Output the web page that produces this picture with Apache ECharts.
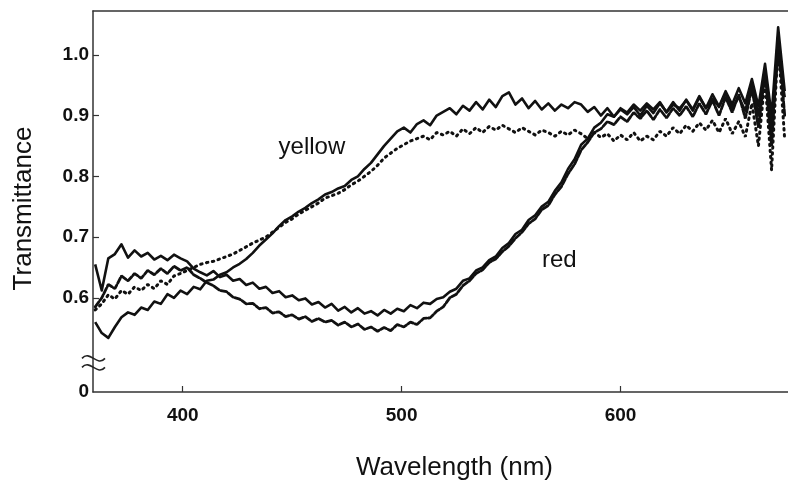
<!DOCTYPE html>
<html><head><meta charset="utf-8">
<script src="https://cdn.jsdelivr.net/npm/echarts@6/dist/echarts.min.js"></script>
<style>html,body{margin:0;padding:0;background:#fff}#c{width:788px;height:481px}</style>
</head><body><div id="c"></div>
<script>
const wavelength = [360,363,366,369,372,375,378,381,384,387,
390,393,396,399,402,405,408,411,414,417,
420,423,426,429,432,435,438,441,444,447,
450,453,456,459,462,465,468,471,474,477,
480,483,486,489,492,495,498,501,504,507,
510,513,516,519,522,525,528,531,534,537,
540,543,546,549,552,555,558,561,564,567,
570,573,576,579,582,585,588,591,594,597,
600,603,606,609,612,615,618,621,624,627,
630,633,636,639,642,645,648,651,654,657,
660,663,666,669,672,675];

const redSolid = [0.655,0.612,0.665,0.672,0.688,0.666,0.678,0.668,0.674,0.663,
0.669,0.662,0.671,0.665,0.660,0.648,0.642,0.637,0.644,0.634,
0.638,0.628,0.631,0.621,0.625,0.615,0.618,0.608,0.611,0.601,
0.604,0.596,0.599,0.589,0.593,0.584,0.590,0.579,0.585,0.576,
0.583,0.574,0.578,0.571,0.580,0.574,0.582,0.578,0.588,0.583,
0.592,0.590,0.598,0.601,0.610,0.615,0.628,0.632,0.645,0.650,
0.662,0.668,0.682,0.690,0.705,0.712,0.728,0.736,0.750,0.758,
0.776,0.790,0.812,0.828,0.852,0.862,0.880,0.888,0.902,0.898,
0.912,0.905,0.918,0.908,0.920,0.910,0.922,0.905,0.918,0.912,
0.925,0.908,0.930,0.912,0.935,0.915,0.940,0.918,0.945,0.920,
0.960,0.915,0.985,0.900,1.045,0.940];

const redDashed = [0.585,0.600,0.622,0.615,0.636,0.628,0.640,0.632,0.645,0.638,
0.648,0.640,0.652,0.645,0.650,0.638,0.632,0.625,0.620,0.612,
0.610,0.601,0.598,0.590,0.591,0.582,0.584,0.575,0.577,0.569,
0.572,0.565,0.569,0.561,0.566,0.560,0.563,0.555,0.560,0.552,
0.557,0.548,0.552,0.545,0.551,0.546,0.556,0.552,0.560,0.556,
0.566,0.567,0.578,0.585,0.600,0.606,0.620,0.628,0.640,0.646,
0.658,0.664,0.676,0.685,0.698,0.708,0.722,0.730,0.745,0.752,
0.770,0.783,0.804,0.820,0.843,0.856,0.872,0.878,0.890,0.885,
0.898,0.890,0.905,0.895,0.908,0.893,0.910,0.896,0.912,0.900,
0.915,0.898,0.920,0.902,0.925,0.900,0.930,0.905,0.935,0.895,
0.945,0.880,0.970,0.850,1.030,0.900];

const yellowSolid = [0.560,0.542,0.534,0.552,0.568,0.576,0.572,0.584,0.580,0.594,
0.590,0.606,0.600,0.612,0.606,0.618,0.614,0.628,0.630,0.638,
0.642,0.650,0.656,0.664,0.674,0.686,0.696,0.706,0.718,0.728,
0.734,0.742,0.748,0.756,0.762,0.770,0.774,0.780,0.784,0.794,
0.800,0.812,0.822,0.836,0.850,0.862,0.874,0.880,0.872,0.886,
0.892,0.884,0.900,0.906,0.912,0.902,0.916,0.908,0.922,0.910,
0.926,0.914,0.932,0.938,0.918,0.928,0.912,0.924,0.910,0.920,
0.908,0.918,0.912,0.922,0.918,0.906,0.914,0.900,0.912,0.898,
0.910,0.902,0.914,0.900,0.916,0.904,0.920,0.906,0.922,0.908,
0.926,0.910,0.932,0.912,0.928,0.914,0.936,0.912,0.930,0.908,
0.950,0.900,0.975,0.880,1.000,0.930];

const yellowDotted = [0.580,0.590,0.605,0.598,0.612,0.606,0.618,0.612,0.622,0.615,
0.628,0.622,0.636,0.640,0.645,0.650,0.655,0.658,0.660,0.664,
0.668,0.672,0.678,0.684,0.690,0.695,0.700,0.708,0.716,0.724,
0.730,0.738,0.744,0.750,0.756,0.764,0.768,0.772,0.778,0.786,
0.792,0.800,0.808,0.818,0.830,0.838,0.846,0.852,0.858,0.862,
0.866,0.860,0.872,0.868,0.874,0.866,0.878,0.870,0.880,0.872,
0.882,0.876,0.884,0.878,0.872,0.880,0.874,0.868,0.876,0.872,
0.866,0.874,0.868,0.876,0.870,0.862,0.872,0.864,0.870,0.858,
0.868,0.860,0.872,0.858,0.866,0.860,0.874,0.866,0.880,0.870,
0.884,0.874,0.888,0.876,0.892,0.872,0.895,0.870,0.890,0.865,
0.920,0.850,0.960,0.810,1.020,0.860];

const xTicks = [400, 500, 600];
const yTicks = [0.6, 0.7, 0.8, 0.9, 1.0];
const yZeroAt = 0.445;          // broken axis: this position is labelled "0"
const curveLabels = [
  { text: 'yellow', x: 459, y: 0.847 },
  { text: 'red', x: 572, y: 0.661 }
];

const FONT = "'Liberation Sans', Arial, Helvetica, sans-serif";
const INK = '#111';
const AX = '#333';

function pairs(arr) { return wavelength.map((w, i) => [w, arr[i]]); }

const chart = echarts.init(document.getElementById('c'), null, { renderer: 'canvas' });

const option = {
  animation: false,
  backgroundColor: '#fff',
  grid: { left: 93, top: 11, right: 0, bottom: 89, containLabel: false, outerBoundsMode: 'none' },
  xAxis: [{
    type: 'value', min: 359, max: 676.5, position: 'bottom',
    axisLine: { show: true, lineStyle: { color: AX, width: 1.5 } },
    axisTick: { show: true, inside: true, length: 6, customValues: xTicks, lineStyle: { color: AX, width: 1.2 } },
    axisLabel: { customValues: xTicks, margin: 14, fontSize: 19, fontWeight: 'bold', color: '#111', fontFamily: FONT },
    splitLine: { show: false },
    name: 'Wavelength (nm)', nameLocation: 'middle', nameGap: 63,
    nameTextStyle: { fontSize: 26, color: '#111', fontFamily: FONT, padding: [0, 0, 0, 28] }
  }, {
    type: 'value', min: 359, max: 676.5, position: 'top',
    axisLine: { show: true, lineStyle: { color: AX, width: 1.5 } },
    axisTick: { show: false }, axisLabel: { show: false }, splitLine: { show: false }
  }],
  yAxis: [{
    type: 'value', min: yZeroAt, max: 1.072,
    axisLine: { show: true, lineStyle: { color: AX, width: 1.5 } },
    axisTick: { show: true, inside: true, length: 6, customValues: yTicks, lineStyle: { color: AX, width: 1.2 } },
    axisLabel: {
      customValues: [yZeroAt].concat(yTicks), margin: 4, fontSize: 19, fontWeight: 'bold', color: '#111', fontFamily: FONT,
      formatter: v => (v < 0.5 ? '0' : v.toFixed(1))
    },
    splitLine: { show: false },
    name: 'Transmittance', nameLocation: 'middle', nameGap: 56,
    nameTextStyle: { fontSize: 26, color: '#111', fontFamily: FONT, padding: [0, 14, 0, 0] }
  }],
  series: [
    { type: 'line', name: 'red', data: pairs(redSolid), showSymbol: false, symbol: 'none',
      lineStyle: { color: INK, width: 2.6, join: 'round' } },
    { type: 'line', name: 'red2', data: pairs(redDashed), showSymbol: false, symbol: 'none',
      lineStyle: { color: INK, width: 2.8, type: [6, 2], cap: 'round' } },
    { type: 'line', name: 'yellow', data: pairs(yellowSolid), showSymbol: false, symbol: 'none',
      lineStyle: { color: INK, width: 2.6, join: 'round' } },
    { type: 'line', name: 'yellow2', data: pairs(yellowDotted), showSymbol: false, symbol: 'none',
      lineStyle: { color: INK, width: 3, type: [1.5, 4.5], cap: 'round' } }
  ]
};
chart.setOption(option);

const gfx = [];
curveLabels.forEach(l => {
  const p = chart.convertToPixel({ xAxisIndex: 0, yAxisIndex: 0 }, [l.x, l.y]);
  gfx.push({ type: 'text', x: p[0], y: p[1], z: 10,
    style: { text: l.text, fontSize: 24, fontFamily: FONT, fill: '#111', align: 'center', verticalAlign: 'middle' } });
});
// axis-break mark (two tildes) on the y axis
const bx = chart.convertToPixel({ xAxisIndex: 0 }, 359);
const by = chart.convertToPixel({ yAxisIndex: 0 }, 0.497);
[-5, 4].forEach(dy => {
  gfx.push({ type: 'bezierCurve', x: bx - 11, y: by + dy, z: 10,
    shape: { x1: 0, y1: 3, x2: 23, y2: 3, cpx1: 8, cpy1: -6, cpx2: 15, cpy2: 12 },
    style: { fill: null, stroke: '#222', lineWidth: 1.6 } });
});
chart.setOption({ graphic: gfx });
</script>
</body></html>
